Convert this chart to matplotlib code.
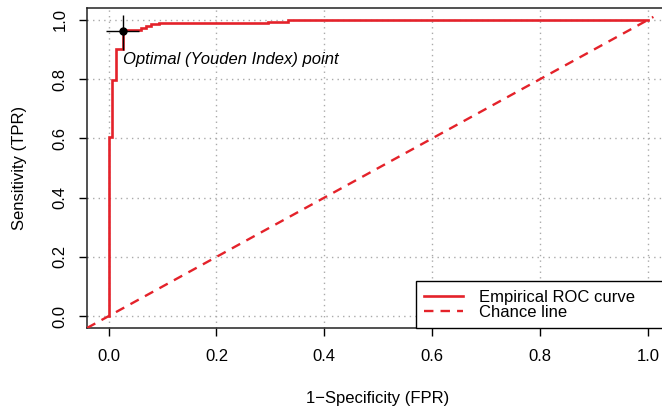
import numpy as np
import matplotlib
matplotlib.use('Agg')
import matplotlib.pyplot as plt

plt.rcParams['font.family'] = ['Liberation Sans', 'DejaVu Sans']

# ROC curve (step points)
fpr = [0.0, 0.0, 0.007, 0.007, 0.013, 0.013, 0.026, 0.026, 0.06, 0.06, 0.07, 0.07,
       0.079, 0.079, 0.093, 0.093, 0.295, 0.295, 0.332, 0.332, 1.0]
tpr = [0.0, 0.603, 0.603, 0.797, 0.797, 0.90, 0.90, 0.966, 0.966, 0.972, 0.972, 0.98,
       0.98, 0.985, 0.985, 0.99, 0.99, 0.993, 0.993, 1.0, 1.0]

# chance line
chance_x = [-0.04, 1.01]
chance_y = [-0.04, 1.01]

# optimal point and its interval
opt_x, opt_y = 0.026, 0.963
opt_x_lo, opt_x_hi = -0.004, 0.057
opt_y_lo, opt_y_hi = 0.898, 1.017

ticks = [0.0, 0.2, 0.4, 0.6, 0.8, 1.0]
red = '#e4222a'
fs = 12

fig = plt.figure(figsize=(6.62, 4.11), dpi=100)
ax = fig.add_axes([87 / 662, 83 / 411, 582.6 / 662, 320 / 411])

ax.plot(fpr, tpr, color=red, lw=1.9, label='Empirical ROC curve', zorder=3,
        solid_joinstyle='miter')
ax.plot(chance_x, chance_y, color=red, lw=1.7, ls=(0, (4, 3)), label='Chance line', zorder=3)

ax.errorbar([opt_x], [opt_y],
            xerr=[[opt_x - opt_x_lo], [opt_x_hi - opt_x]],
            yerr=[[opt_y - opt_y_lo], [opt_y_hi - opt_y]],
            fmt='o', color='black', ms=5, elinewidth=1.0, capsize=0, zorder=4)
ax.text(opt_x, 0.866, 'Optimal (Youden Index) point', style='italic',
        fontsize=fs, ha='left', va='center')

ax.set_xlim(-0.04, 1.04)
ax.set_ylim(-0.04, 1.04)
ax.set_xticks(ticks)
ax.set_yticks(ticks)
ax.set_xticklabels(['%.1f' % t for t in ticks])
ax.set_yticklabels(['%.1f' % t for t in ticks], rotation=90, va='center')
ax.tick_params(direction='out', length=6, width=1, labelsize=fs, color='black')
ax.tick_params(axis='x', pad=9)
ax.tick_params(axis='y', pad=8)
ax.grid(True, ls=(0, (1, 3)), color='#aaaaaa', lw=1)
ax.set_axisbelow(True)
for s in ax.spines.values():
    s.set_linewidth(1.1)
    s.set_color('#222222')

x0 = (416 - 87) / 582.6
leg = ax.legend(loc='lower left', bbox_to_anchor=(x0, 0, 1 - x0, 0.1), mode='expand',
                borderaxespad=0, fancybox=False, framealpha=1,
                edgecolor='black', fontsize=fs, labelspacing=0.0, handlelength=2.3,
                handletextpad=1.0, borderpad=0.5)
leg.get_frame().set_linewidth(1.0)

fig.text(378 / 662, 1 - 398 / 411, '1\u2212Specificity (FPR)', fontsize=fs, ha='center', va='center')
fig.text(20 / 662, 1 - 168 / 411, 'Sensitivity (TPR)', fontsize=fs, ha='center', va='center',
         rotation=90)

fig.savefig('out.png', dpi=100)
